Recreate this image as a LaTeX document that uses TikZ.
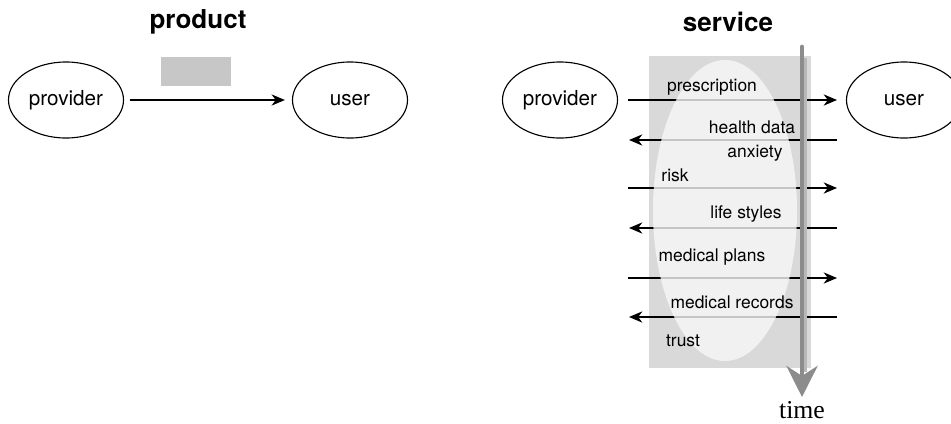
\documentclass[tikz,border=0pt]{standalone}
\usepackage{fontspec}
\setmainfont{TeX Gyre Heros}
\newfontfamily\timefont{Liberation Serif}
\usetikzlibrary{arrows.meta,shapes.geometric}

\begin{document}
\begin{tikzpicture}[x=0.025cm,y=-0.025cm,
  party/.style={draw,ellipse,line width=0.8pt,minimum width=2.875cm,minimum height=1.9cm,inner sep=0pt,font=\fontsize{14.7}{17}\selectfont},
  heading/.style={font=\fontsize{18.5}{22}\selectfont\bfseries},
  msg/.style={line width=0.8pt,-{Stealth[length=9.5pt,width=8pt,inset=3pt]}},
  lbl/.style={inner sep=0pt,font=\fontsize{12.4}{15}\selectfont}]
\useasboundingbox (0,0) rectangle (951,423);

%% product
\node[heading] (ptitle) at (198,22) {product};
\node[party] (pprov) at (66,100) {provider};
\node[party] (puser) at (350,100) {user};
\fill[black!22] (161,57) rectangle (231,86);
\draw[msg,shorten <=4pt,shorten >=5pt] (pprov) -- (puser);

%% service
\node[heading] (stitle) at (728,22) {service};
\node[party] (sprov) at (560,100) {provider};
\node[party] (suser) at (904,100) {user};
\fill[black!15] (649,56) rectangle (811,368);

%%% messages
\foreach \y in {100,188,278}{
  \coordinate (a\y) at (628,\y);
  \coordinate (b\y) at (837,\y);
  \draw[msg] (a\y) -- (b\y);
}
\foreach \y in {140,228,317}{
  \coordinate (a\y) at (837,\y);
  \coordinate (b\y) at (629,\y);
  \draw[msg] (a\y) -- (b\y);
}
\fill[black!3,fill opacity=0.8] (725,210.5) ellipse [x radius=72,y radius=150.5];

\node[lbl] (presc) at (712,87) {prescription};
\node[lbl] (hdata) at (752,127) {health data};
\node[lbl] (anx) at (755,153) {anxiety};
\node[lbl] (risk) at (675,175) {risk};
\node[lbl] (life) at (746,214) {life styles};
\node[lbl] (plans) at (712,257) {medical plans};
\node[lbl] (records) at (732,302) {medical records};
\node[lbl] (trust) at (683,341) {trust};

%%% time
\coordinate (ttop) at (802,47);
\coordinate (tbot) at (802,397);
\draw[line width=1.6pt,black!28] (805.5,58) -- (805.5,372);
\draw[line width=3.5pt,black!45,line cap=round,-{Stealth[length=22pt,width=22pt,inset=7pt]}] (ttop) -- (tbot);
\node[inner sep=0pt,font=\timefont\fontsize{18.3}{22}\selectfont] (time) at (802,410) {time};

\end{tikzpicture}
\end{document}
